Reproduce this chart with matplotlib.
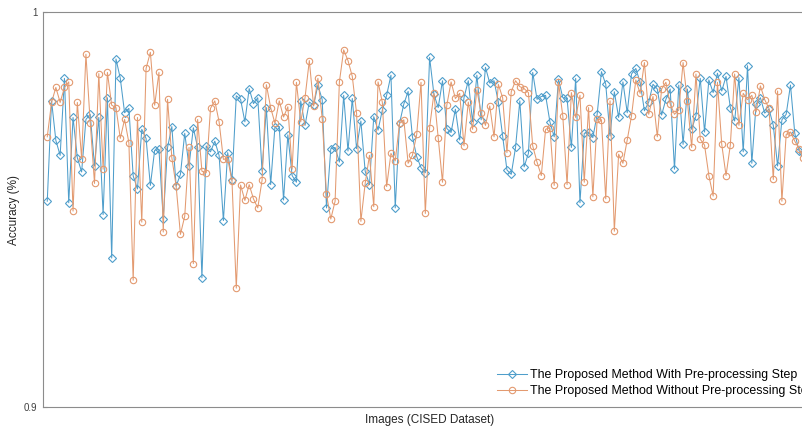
import matplotlib
matplotlib.use('Agg')
import matplotlib.pyplot as plt
import numpy as np

matplotlib.rcParams['font.family'] = 'sans-serif'
matplotlib.rcParams['font.sans-serif'] = ['Liberation Sans', 'DejaVu Sans']

# ===== DATA =====
with_pre = [
    0.9521, 0.9775, 0.9675, 0.9637, 0.9832, 0.9517, 0.9733, 0.9631, 0.9595, 0.9728,
    0.9741, 0.9610, 0.9733, 0.9487, 0.9783, 0.9377, 0.9881, 0.9832, 0.9745, 0.9756,
    0.9585, 0.9552, 0.9703, 0.9680, 0.9561, 0.9650, 0.9652, 0.9476, 0.9657, 0.9710,
    0.9559, 0.9589, 0.9693, 0.9610, 0.9707, 0.9657, 0.9327, 0.9661, 0.9646, 0.9673,
    0.9637, 0.9472, 0.9644, 0.9574, 0.9788, 0.9779, 0.9722, 0.9806, 0.9768, 0.9783,
    0.9597, 0.9758, 0.9563, 0.9710, 0.9710, 0.9524, 0.9689, 0.9586, 0.9569, 0.9775,
    0.9713, 0.9772, 0.9764, 0.9815, 0.9778, 0.9504, 0.9654, 0.9657, 0.9620, 0.9789,
    0.9648, 0.9781, 0.9654, 0.9724, 0.9597, 0.9563, 0.9735, 0.9701, 0.9752, 0.9789,
    0.9840, 0.9504, 0.9718, 0.9767, 0.9799, 0.9684, 0.9634, 0.9606, 0.9593, 0.9885,
    0.9792, 0.9758, 0.9826, 0.9705, 0.9695, 0.9754, 0.9676, 0.9783, 0.9826, 0.9722,
    0.9840, 0.9727, 0.9860, 0.9820, 0.9826, 0.9772, 0.9686, 0.9600, 0.9589, 0.9657,
    0.9775, 0.9608, 0.9642, 0.9847, 0.9779, 0.9786, 0.9789, 0.9722, 0.9684, 0.9830,
    0.9783, 0.9781, 0.9657, 0.9832, 0.9517, 0.9693, 0.9696, 0.9682, 0.9741, 0.9849,
    0.9817, 0.9686, 0.9798, 0.9733, 0.9823, 0.9745, 0.9843, 0.9857, 0.9822, 0.9750,
    0.9772, 0.9817, 0.9805, 0.9739, 0.9779, 0.9805, 0.9602, 0.9815, 0.9665, 0.9805,
    0.9703, 0.9737, 0.9832, 0.9696, 0.9828, 0.9796, 0.9845, 0.9800, 0.9837, 0.9758,
    0.9724, 0.9834, 0.9646, 0.9864, 0.9617, 0.9767, 0.9783, 0.9744, 0.9754, 0.9713,
    0.9610, 0.9727, 0.9741, 0.9815, 0.9693, 0.9648, 0.9644,
]

without_pre = [
    0.9684, 0.9771, 0.9809, 0.9771, 0.9809, 0.9823, 0.9496, 0.9771, 0.9629, 0.9893,
    0.9720, 0.9566, 0.9844, 0.9602, 0.9847, 0.9764, 0.9758, 0.9680, 0.9728, 0.9669,
    0.9321, 0.9733, 0.9468, 0.9857, 0.9898, 0.9764, 0.9847, 0.9443, 0.9779, 0.9631,
    0.9559, 0.9437, 0.9483, 0.9657, 0.9363, 0.9728, 0.9597, 0.9593, 0.9756, 0.9775,
    0.9722, 0.9627, 0.9629, 0.9572, 0.9301, 0.9562, 0.9523, 0.9563, 0.9527, 0.9504,
    0.9574, 0.9816, 0.9758, 0.9718, 0.9775, 0.9734, 0.9760, 0.9602, 0.9822, 0.9722,
    0.9783, 0.9877, 0.9762, 0.9832, 0.9730, 0.9538, 0.9476, 0.9521, 0.9823, 0.9904,
    0.9877, 0.9837, 0.9744, 0.9470, 0.9566, 0.9637, 0.9507, 0.9823, 0.9771, 0.9558,
    0.9642, 0.9623, 0.9718, 0.9727, 0.9617, 0.9637, 0.9690, 0.9822, 0.9490, 0.9707,
    0.9794, 0.9682, 0.9569, 0.9764, 0.9823, 0.9781, 0.9794, 0.9661, 0.9772, 0.9703,
    0.9803, 0.9744, 0.9713, 0.9762, 0.9684, 0.9817, 0.9783, 0.9644, 0.9798, 0.9826,
    0.9811, 0.9806, 0.9796, 0.9661, 0.9620, 0.9586, 0.9703, 0.9707, 0.9561, 0.9822,
    0.9737, 0.9563, 0.9796, 0.9733, 0.9789, 0.9569, 0.9758, 0.9532, 0.9728, 0.9727,
    0.9527, 0.9775, 0.9445, 0.9640, 0.9617, 0.9676, 0.9737, 0.9828, 0.9794, 0.9872,
    0.9741, 0.9786, 0.9684, 0.9805, 0.9822, 0.9767, 0.9741, 0.9752, 0.9872, 0.9775,
    0.9657, 0.9843, 0.9678, 0.9663, 0.9586, 0.9534, 0.9822, 0.9665, 0.9586, 0.9663,
    0.9843, 0.9713, 0.9794, 0.9778, 0.9789, 0.9747, 0.9813, 0.9778, 0.9756, 0.9576,
    0.9800, 0.9521, 0.9690, 0.9696, 0.9673, 0.9654, 0.9631,
]

labels = ['The Proposed Method With Pre-processing Step',
          'The Proposed Method Without Pre-processing Step']

BLUE = '#4f9ecb'
ORANGE = '#e39a70'
AXIS_GRAY = '#8c8c8c'

images = np.arange(1, len(with_pre) + 1)

fig = plt.figure(figsize=(8.03, 4.28), dpi=100)
fig.patch.set_facecolor('white')
# axes run past the right edge, as in the cropped original
ax = fig.add_axes([0.0535, 0.049, 0.963, 0.923])

ax.plot(images, with_pre, color=BLUE, lw=0.75, marker='D', ms=4.0,
        mfc='none', mec=BLUE, mew=0.8, label=labels[0])
ax.plot(images, without_pre, color=ORANGE, lw=0.75, marker='o', ms=4.6,
        mfc='none', mec=ORANGE, mew=0.8, label=labels[1])

ax.set_xlim(0, 180)
ax.set_ylim(0.9, 1.0)
ax.set_xticks([])
ax.set_yticks([0.9, 1.0])
ax.set_yticklabels(['0.9', '1'])
ax.tick_params(axis='y', direction='in', length=3, labelsize=7,
               labelcolor='#404040', color=AXIS_GRAY, pad=4)
for s in ax.spines.values():
    s.set_color(AXIS_GRAY)
    s.set_linewidth(0.8)

ax.set_xlabel('Images (CISED Dataset)', fontsize=8.5, color='#262626', labelpad=5)
ax.set_ylabel('Accuracy (%)', fontsize=8.5, color='#262626', labelpad=3)

ax.legend(loc='lower right', bbox_to_anchor=(1.010, 0.0), frameon=False,
          fontsize=8.9, handlelength=2.35, handletextpad=0.25, labelspacing=0.3,
          borderaxespad=0.4)

plt.savefig('out.png', dpi=100, facecolor='white')
plt.close()
